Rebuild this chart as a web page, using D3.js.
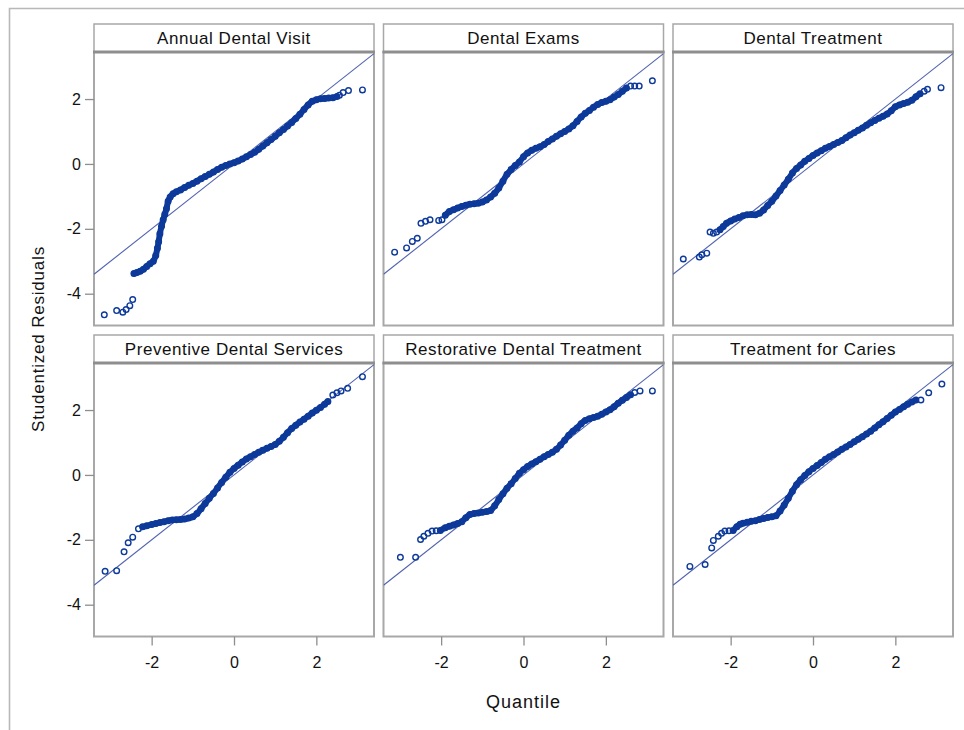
<!DOCTYPE html>
<html><head><meta charset="utf-8">
<script src="https://cdn.jsdelivr.net/npm/d3@7"></script>
<style>
html,body{margin:0;padding:0;background:#fff;}
text{font-family:"Liberation Sans",Arial,sans-serif;}
</style></head>
<body><svg id="chart" width="964" height="730"></svg>
<script>
// ---------------- data ----------------
const categories = ["Annual Dental Visit","Dental Exams","Dental Treatment",
  "Preventive Dental Services","Restorative Dental Treatment","Treatment for Caries"];
const xTicks = [-2, 0, 2];
const yTicks = [2, 0, -2, -4];
const refIntercept = [0, 0, 0, 0, 0, 0];
const refSlope = [1, 1, 1, 1, 1, 1];
// quantile range where the points are so dense that they merge into a band
const bandStart = [-2.43, -1.90, -2.26, -2.22, -2.02, -1.94];
const bandEnd = [2.50, 2.50, 2.60, 2.28, 2.60, 2.50];

const qAnnual = [-3.15,-2.85,-2.70,-2.62,-2.53,-2.46,-2.43,-2.36,-2.28,-2.20,-2.12,-2.04,-1.96,-1.90,-1.86,-1.83,-1.80,-1.76,-1.72,-1.68,-1.64,-1.60,-1.55,-1.48,-1.40,-1.30,-1.20,-1.10,-1.00,-0.90,-0.80,-0.70,-0.60,-0.50,-0.40,-0.30,-0.20,-0.10,0.00,0.10,0.20,0.30,0.40,0.50,0.60,0.70,0.80,0.90,1.00,1.10,1.20,1.30,1.40,1.50,1.60,1.70,1.80,1.90,2.00,2.10,2.20,2.30,2.40,2.50,2.56,2.65,2.78,3.12];
const rAnnual = [-4.65,-4.52,-4.57,-4.49,-4.37,-4.18,-3.38,-3.35,-3.31,-3.25,-3.16,-3.08,-3.00,-2.82,-2.60,-2.40,-2.15,-1.92,-1.72,-1.55,-1.38,-1.15,-1.02,-0.92,-0.86,-0.80,-0.73,-0.66,-0.60,-0.53,-0.46,-0.39,-0.32,-0.25,-0.17,-0.10,-0.05,0.00,0.04,0.09,0.15,0.22,0.29,0.36,0.45,0.55,0.65,0.75,0.85,0.96,1.06,1.17,1.28,1.40,1.53,1.68,1.82,1.93,1.98,2.01,2.02,2.03,2.04,2.08,2.12,2.20,2.26,2.28];

const qExams = [-3.13,-2.84,-2.70,-2.58,-2.49,-2.38,-2.27,-2.06,-1.98,-1.90,-1.80,-1.70,-1.60,-1.50,-1.40,-1.30,-1.20,-1.10,-1.00,-0.90,-0.80,-0.70,-0.60,-0.50,-0.40,-0.30,-0.20,-0.10,0.00,0.10,0.20,0.30,0.40,0.50,0.60,0.70,0.80,0.90,1.00,1.10,1.20,1.30,1.40,1.50,1.60,1.70,1.80,1.90,2.00,2.10,2.20,2.30,2.40,2.50,2.60,2.70,2.81,3.13];
const rExams = [-2.72,-2.59,-2.39,-2.29,-1.83,-1.77,-1.72,-1.74,-1.72,-1.58,-1.47,-1.41,-1.36,-1.31,-1.27,-1.24,-1.23,-1.21,-1.17,-1.11,-1.02,-0.90,-0.74,-0.53,-0.32,-0.17,-0.05,0.06,0.22,0.34,0.42,0.48,0.53,0.60,0.69,0.77,0.85,0.93,1.00,1.08,1.18,1.31,1.45,1.56,1.65,1.75,1.83,1.89,1.93,1.98,2.06,2.14,2.24,2.34,2.40,2.40,2.40,2.56];

const qTreat = [-3.15,-2.76,-2.70,-2.58,-2.50,-2.42,-2.34,-2.26,-2.18,-2.10,-2.00,-1.90,-1.80,-1.70,-1.60,-1.50,-1.40,-1.30,-1.20,-1.10,-1.00,-0.90,-0.80,-0.70,-0.60,-0.50,-0.40,-0.30,-0.20,-0.10,0.00,0.10,0.20,0.30,0.40,0.50,0.60,0.70,0.80,0.90,1.00,1.10,1.20,1.30,1.40,1.50,1.60,1.70,1.80,1.90,2.00,2.10,2.20,2.30,2.40,2.50,2.60,2.70,2.78,3.11];
const rTreat = [-2.93,-2.87,-2.80,-2.75,-2.10,-2.14,-2.10,-2.03,-1.93,-1.83,-1.76,-1.70,-1.65,-1.60,-1.57,-1.56,-1.57,-1.52,-1.42,-1.28,-1.15,-0.99,-0.82,-0.65,-0.47,-0.28,-0.14,-0.03,0.08,0.17,0.26,0.34,0.41,0.48,0.54,0.60,0.66,0.72,0.81,0.89,0.96,1.04,1.11,1.19,1.27,1.34,1.41,1.47,1.54,1.64,1.76,1.82,1.86,1.90,1.96,2.07,2.16,2.24,2.30,2.35];

const qPrev = [-3.13,-2.85,-2.67,-2.57,-2.46,-2.32,-2.22,-2.12,-2.00,-1.90,-1.80,-1.70,-1.60,-1.50,-1.40,-1.30,-1.20,-1.10,-1.00,-0.90,-0.80,-0.70,-0.60,-0.50,-0.40,-0.30,-0.20,-0.10,0.00,0.10,0.20,0.30,0.40,0.50,0.60,0.70,0.80,0.90,1.00,1.10,1.20,1.30,1.40,1.50,1.60,1.70,1.80,1.90,2.00,2.10,2.20,2.28,2.40,2.50,2.60,2.76,3.12];
const rPrev = [-2.97,-2.95,-2.37,-2.09,-1.92,-1.66,-1.60,-1.57,-1.53,-1.50,-1.47,-1.44,-1.41,-1.39,-1.38,-1.37,-1.36,-1.33,-1.29,-1.19,-1.04,-0.88,-0.72,-0.57,-0.40,-0.23,-0.07,0.08,0.20,0.30,0.40,0.49,0.56,0.63,0.70,0.76,0.82,0.88,0.94,1.04,1.16,1.30,1.43,1.53,1.63,1.72,1.81,1.91,1.99,2.08,2.18,2.26,2.46,2.53,2.59,2.67,3.03];

const qRest = [-2.99,-2.62,-2.50,-2.42,-2.32,-2.22,-2.12,-2.02,-1.90,-1.80,-1.70,-1.60,-1.50,-1.40,-1.30,-1.20,-1.10,-1.00,-0.90,-0.80,-0.70,-0.60,-0.50,-0.40,-0.30,-0.20,-0.10,0.00,0.10,0.20,0.30,0.40,0.50,0.60,0.70,0.80,0.90,1.00,1.10,1.20,1.30,1.40,1.50,1.60,1.70,1.80,1.90,2.00,2.10,2.20,2.30,2.40,2.50,2.60,2.70,2.83,3.13];
const rRest = [-2.54,-2.54,-1.99,-1.89,-1.80,-1.73,-1.72,-1.71,-1.63,-1.58,-1.54,-1.50,-1.44,-1.32,-1.22,-1.19,-1.17,-1.15,-1.13,-1.10,-0.95,-0.76,-0.58,-0.41,-0.27,-0.11,0.05,0.16,0.26,0.34,0.41,0.48,0.56,0.63,0.70,0.79,0.92,1.07,1.22,1.35,1.45,1.58,1.68,1.73,1.77,1.81,1.87,1.94,2.01,2.10,2.21,2.30,2.39,2.47,2.54,2.59,2.59];

const qCaries = [-2.99,-2.62,-2.46,-2.42,-2.30,-2.22,-2.14,-2.04,-1.94,-1.85,-1.77,-1.70,-1.60,-1.50,-1.40,-1.30,-1.20,-1.10,-1.00,-0.90,-0.80,-0.70,-0.60,-0.50,-0.40,-0.30,-0.20,-0.10,0.00,0.10,0.20,0.30,0.40,0.50,0.60,0.70,0.80,0.90,1.00,1.10,1.20,1.30,1.40,1.50,1.60,1.70,1.80,1.90,2.00,2.10,2.20,2.30,2.40,2.50,2.62,2.81,3.13];
const rCaries = [-2.82,-2.76,-2.25,-2.02,-1.89,-1.80,-1.73,-1.72,-1.71,-1.60,-1.52,-1.49,-1.46,-1.43,-1.41,-1.37,-1.34,-1.31,-1.29,-1.26,-1.11,-0.93,-0.72,-0.50,-0.30,-0.15,-0.02,0.10,0.20,0.29,0.38,0.48,0.56,0.63,0.71,0.79,0.86,0.94,1.02,1.10,1.18,1.26,1.35,1.45,1.55,1.64,1.74,1.84,1.94,2.02,2.10,2.18,2.25,2.31,2.31,2.53,2.80];

const quantiles = [qAnnual, qExams, qTreat, qPrev, qRest, qCaries];
const residuals = [rAnnual, rExams, rTreat, rPrev, rRest, rCaries];

// ---------------- layout ----------------
const svg = d3.select("#chart");
const colX = [94, 383.5, 673];
const rowY = [52, 363];
const pw = 280, ph = 273.5, headH = 28;
const markColor = "#0d3a9a";
const lineColor = "#4f62b0";
const frameColor = "#a8a8a8";
const fontFam = "'Liberation Sans',Arial,sans-serif";

svg.append("path").attr("d", "M9.5,730 V8.5 H964")
  .attr("fill", "none").attr("stroke", "#b8b8b8").attr("stroke-width", 1.6);

const x = d3.scaleLinear().domain([-3.4, 3.4]).range([0, pw]);
const y = d3.scaleLinear().domain([-4.98, 3.45]).range([ph, 0]);

categories.forEach((title, i) => {
  const col = i % 3, row = Math.floor(i / 3);
  const g = svg.append("g").attr("transform", `translate(${colX[col]},${rowY[row]})`);
  const pts = quantiles[i].map((q, k) => ({q, r: residuals[i][k]}));

  // header
  g.append("rect").attr("x", 0).attr("y", -headH).attr("width", pw).attr("height", headH)
    .attr("fill", "#fff").attr("stroke", frameColor).attr("stroke-width", 1.5);
  g.append("text").attr("x", pw / 2).attr("y", -8.5).attr("text-anchor", "middle")
    .attr("font-size", 17).attr("letter-spacing", 0.55).attr("fill", "#111").text(title);

  // plot area
  g.append("rect").attr("width", pw).attr("height", ph).attr("fill", "#fff")
    .attr("stroke", frameColor).attr("stroke-width", 2);

  const cid = "clip" + i;
  g.append("clipPath").attr("id", cid).append("rect").attr("width", pw).attr("height", ph);
  const pg = g.append("g").attr("clip-path", `url(#${cid})`);

  // reference line
  const xd = x.domain();
  pg.append("line")
    .attr("x1", x(xd[0])).attr("y1", y(refIntercept[i] + refSlope[i] * xd[0]))
    .attr("x2", x(xd[1])).attr("y2", y(refIntercept[i] + refSlope[i] * xd[1]))
    .attr("stroke", lineColor).attr("stroke-width", 1.1);

  // dense band through the points inside the band range
  const bandPts = pts.filter(d => d.q >= bandStart[i] - 1e-9 && d.q <= bandEnd[i] + 1e-9);
  const band = d3.line().x(d => x(d.q)).y(d => y(d.r)).curve(d3.curveCatmullRom);
  pg.append("path").datum(bandPts)
    .attr("d", band).attr("fill", "none").attr("stroke", markColor)
    .attr("stroke-width", 6).attr("stroke-linecap", "round").attr("stroke-linejoin", "round");

  // markers
  pg.selectAll("circle").data(pts).join("circle")
    .attr("cx", d => x(d.q)).attr("cy", d => y(d.r)).attr("r", 2.8)
    .attr("fill", "none").attr("stroke", markColor).attr("stroke-width", 1.4);

  // header separator
  g.append("line").attr("x1", -1).attr("x2", pw + 1).attr("y1", 0).attr("y2", 0)
    .attr("stroke", "#8e8e8e").attr("stroke-width", 3);

  if (col === 0) {
    const ya = g.append("g").call(d3.axisLeft(y).tickValues(yTicks).tickSize(9).tickPadding(4)
      .tickFormat(d => String(d)));
    ya.select(".domain").remove();
    ya.selectAll("line").attr("stroke", "#8e8e8e").attr("stroke-width", 1.3);
    ya.selectAll("text").attr("font-size", 16).attr("fill", "#111").attr("font-family", fontFam);
  }
  if (row === 1) {
    const xa = g.append("g").attr("transform", `translate(0,${ph})`)
      .call(d3.axisBottom(x).tickValues(xTicks).tickSize(9).tickPadding(11)
        .tickFormat(d => String(d)));
    xa.select(".domain").remove();
    xa.selectAll("line").attr("stroke", "#8e8e8e").attr("stroke-width", 1.3);
    xa.selectAll("text").attr("font-size", 16).attr("fill", "#111").attr("font-family", fontFam);
  }
});

// axis titles
svg.append("text").attr("x", colX[1] + pw / 2).attr("y", 708).attr("text-anchor", "middle")
  .attr("font-size", 18).attr("letter-spacing", 1.0).attr("fill", "#111").text("Quantile");
svg.append("text").attr("transform", "translate(44,339) rotate(-90)").attr("text-anchor", "middle")
  .attr("font-size", 17).attr("letter-spacing", 0.8).attr("fill", "#111").text("Studentized Residuals");
</script>
</body></html>
